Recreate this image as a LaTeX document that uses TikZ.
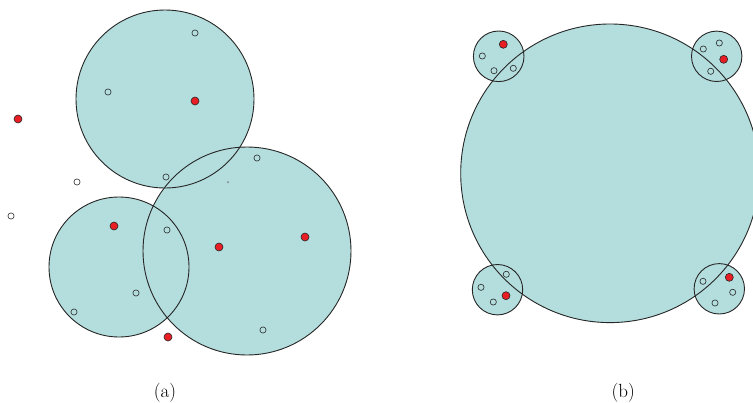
\documentclass[tikz,border=0pt]{standalone}
\begin{document}
\begin{tikzpicture}[x=1pt,y=-1pt,
  discfill/.style={fill=discc},
  discline/.style={draw=black!85,line width=0.9pt},
  rdot/.style={circle,draw=black!85,line width=0.6pt,fill=dotred,inner sep=0pt,minimum size=8pt},
  odot/.style={circle,draw=black!85,line width=0.6pt,fill=none,inner sep=0pt,minimum size=6.2pt},
  lbl/.style={font=\fontsize{19}{22}\selectfont,anchor=base}]
\definecolor{discc}{RGB}{180,221,221}
\definecolor{dotred}{RGB}{232,30,36}
\useasboundingbox (0,0) rectangle (753,402);
\begin{scope}
\clip (0,0) rectangle (753,402);
% panel (a)
\fill[discfill] (165,99) circle (89);
\fill[discfill] (119,267) circle (70);
\fill[discfill] (247,251) circle (104);
\draw[discline] (165,99) circle (89);
\draw[discline] (119,267) circle (70);
\draw[discline] (247,251) circle (104);
\node[circle,fill=black!50,inner sep=0pt,minimum size=2pt] (speck) at (228,182) {};
\node[rdot] (ra1) at (18,119) {};
\node[rdot] (ra2) at (195,101) {};
\node[rdot] (ra3) at (114,226) {};
\node[rdot] (ra4) at (219,247) {};
\node[rdot] (ra5) at (305,237) {};
\node[rdot] (ra6) at (168,337) {};
\node[odot] (oa1) at (195,33) {};
\node[odot] (oa2) at (108,92) {};
\node[odot] (oa3) at (77,182) {};
\node[odot] (oa4) at (11,216) {};
\node[odot] (oa5) at (166,177) {};
\node[odot] (oa6) at (257,158) {};
\node[odot] (oa7) at (167,230) {};
\node[odot] (oa8) at (136,293) {};
\node[odot] (oa9) at (74,312) {};
\node[odot] (oa10) at (263,330) {};
% panel (b)
\fill[discfill] (610,173.3) circle (149.3);
\fill[discfill] (498.7,56.3) circle (25.3);
\fill[discfill] (716.7,56.3) circle (25.2);
\fill[discfill] (497.5,289.7) circle (25.2);
\fill[discfill] (719.3,288.8) circle (25.2);
\draw[discline] (610,173.3) circle (149.3);
\draw[discline] (498.7,56.3) circle (25.3);
\draw[discline] (716.7,56.3) circle (25.2);
\draw[discline] (497.5,289.7) circle (25.2);
\draw[discline] (719.3,288.8) circle (25.2);
\node[rdot] (rb1) at (503.3,44.3) {};
\node[odot] (ob1) at (482.3,56) {};
\node[odot] (ob2) at (494,70.7) {};
\node[odot] (ob3) at (513.3,68.3) {};
\node[odot] (ob4) at (703.3,49) {};
\node[odot] (ob5) at (719.3,43) {};
\node[rdot] (rb2) at (723.7,59.3) {};
\node[odot] (ob6) at (710.7,71.3) {};
\node[odot] (ob7) at (506.3,274.3) {};
\node[odot] (ob8) at (481,287.3) {};
\node[rdot] (rb3) at (506,295.7) {};
\node[odot] (ob9) at (493.3,302) {};
\node[odot] (ob10) at (703,281.3) {};
\node[rdot] (rb4) at (729.3,277.3) {};
\node[odot] (ob11) at (732.7,292.3) {};
\node[odot] (ob12) at (715,303) {};
\end{scope}
\node[lbl] (la) at (165,397) {(a)};
\node[lbl] (lb) at (623.3,397) {(b)};
\end{tikzpicture}
\end{document}
